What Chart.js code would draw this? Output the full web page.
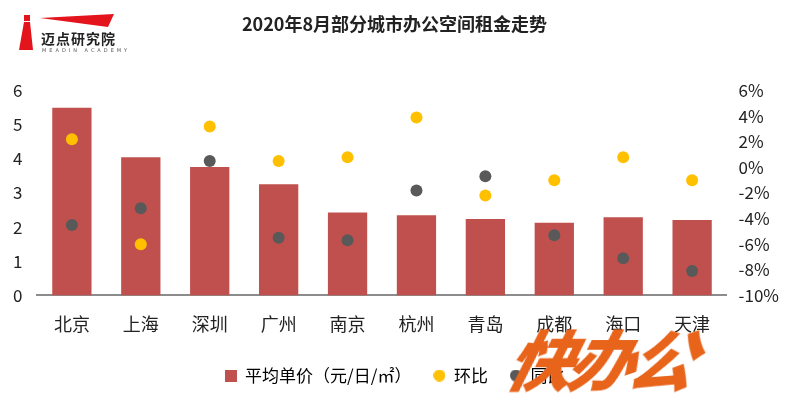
<!DOCTYPE html>
<html>
<head>
<meta charset="utf-8">
<script src="https://cdn.jsdelivr.net/npm/chart.js@4/dist/chart.umd.min.js"></script>
<style>
  html, body { margin: 0; padding: 0; background: #fff; }
  #wrap { position: relative; width: 800px; height: 407px; overflow: hidden; }
  #logo-text { position: absolute; left: 41px; top: 28px; font: bold 14px "Noto Sans CJK SC"; color: #222; letter-spacing: 1px; }
  #logo-sub { position: absolute; left: 42px; top: 47px; font: 5px "DejaVu Sans"; color: #555; letter-spacing: 3px; }
  #mark { position: absolute; left: 510px; top: 309px; font: 800 italic 66px "Noto Sans CJK SC"; color: #E8641B;
          transform: skewX(-14deg); letter-spacing: -5px; }
</style>
</head>
<body>
<div id="wrap">
  <canvas id="chart" width="800" height="407"></canvas>
  <svg style="position:absolute;left:0;top:0" width="120" height="60">
    <polygon points="24,22 30,22 33,50 19,50" fill="#E3141B"/>
    <rect x="24" y="15" width="6" height="6" fill="#E3141B"/>
    <polygon points="40,18 114,14 108,27" fill="#E3141B"/>
  </svg>
  <div id="logo-text">迈点研究院</div>
  <div id="logo-sub">MEADIN ACADEMY</div>
  <div id="mark">快办公</div>
</div>
<script>
const cities = ['北京', '上海', '深圳', '广州', '南京', '杭州', '青岛', '成都', '海口', '天津'];
const avgPrice = [5.5, 4.05, 3.76, 3.26, 2.43, 2.35, 2.24, 2.13, 2.29, 2.21];
const momChange = [2.2, -6.0, 3.2, 0.5, 0.8, 3.9, -2.2, -1.0, 0.8, -1.0];
const yoyChange = [-4.5, -3.2, 0.5, -5.5, -5.7, -1.8, -0.7, -5.3, -7.1, -8.1];

const barColor = '#C0504D';
const momColor = '#FFC000';
const yoyColor = '#595959';

// little legend swatches
function swatch(color, round) {
    const c = document.createElement('canvas');
    c.width = 12;
    c.height = 12;
    const g = c.getContext('2d');
    g.fillStyle = color;
    if (round) {
        g.beginPath();
        g.arc(6, 6, 6, 0, Math.PI * 2);
        g.fill();
    } else {
        g.fillRect(0, 0, 12, 12);
    }
    return c;
}
const swatches = [swatch(barColor, false), swatch(momColor, true), swatch(yoyColor, true)];

const ctx = document.getElementById('chart');

new Chart(ctx, {
    type: 'bar',
    data: {
        labels: cities,
        datasets: [{
            label: '平均单价（元/日/㎡）',
            data: avgPrice,
            backgroundColor: barColor,
            yAxisID: 'y',
            barPercentage: 0.57,
            categoryPercentage: 1,
            order: 2
        }, {
            type: 'line',
            label: '环比',
            data: momChange,
            yAxisID: 'y1',
            showLine: false,
            pointRadius: 6,
            pointBackgroundColor: momColor,
            pointBorderWidth: 0,
            backgroundColor: momColor,
            borderColor: momColor,
            order: 1
        }, {
            type: 'line',
            label: '同比',
            data: yoyChange,
            yAxisID: 'y1',
            showLine: false,
            pointRadius: 6,
            pointBackgroundColor: yoyColor,
            pointBorderWidth: 0,
            backgroundColor: yoyColor,
            borderColor: yoyColor,
            order: 0
        }]
    },
    options: {
        responsive: false,
        animation: false,
        layout: {
            padding: { left: 6, right: 17, top: 0, bottom: 13 }
        },
        plugins: {
            title: {
                display: true,
                text: '2020年8月部分城市办公空间租金走势',
                color: '#222',
                font: { size: 18, weight: 'bold', family: '"Noto Sans CJK SC"' },
                padding: { top: 13, bottom: 56 }
            },
            legend: {
                position: 'bottom',
                labels: {
                    usePointStyle: true,
                    boxHeight: 12,
                    boxWidth: 12,
                    color: '#222',
                    font: { size: 17, family: '"Noto Sans CJK SC"' },
                    padding: 22,
                    generateLabels: function(chart) {
                        return chart.data.datasets.map(function(ds, i) {
                            return {
                                text: ds.label,
                                fillStyle: i === 0 ? barColor : ds.pointBackgroundColor,
                                strokeStyle: 'rgba(0,0,0,0)',
                                lineWidth: 0,
                                pointStyle: swatches[i],
                                datasetIndex: i
                            };
                        });
                    }
                }
            },
            tooltip: { enabled: false }
        },
        scales: {
            x: {
                grid: { display: false },
                border: { color: '#8c8c8c', width: 2 },
                ticks: {
                    color: '#222',
                    padding: 10,
                    font: { size: 18, family: '"Noto Sans CJK SC"' }
                }
            },
            y: {
                position: 'left',
                min: 0,
                max: 6,
                grid: { display: false },
                border: { display: false },
                ticks: {
                    stepSize: 1,
                    color: '#222',
                    padding: 7,
                    font: { size: 17, family: '"Noto Sans CJK SC"' }
                }
            },
            y1: {
                position: 'right',
                min: -10,
                max: 6,
                grid: { display: false },
                border: { display: false },
                ticks: {
                    stepSize: 2,
                    color: '#222',
                    padding: 4,
                    font: { size: 17, family: '"Noto Sans CJK SC"' },
                    callback: function(v) {
                        return v + '%';
                    }
                }
            }
        }
    }
});
</script>
</body>
</html>
